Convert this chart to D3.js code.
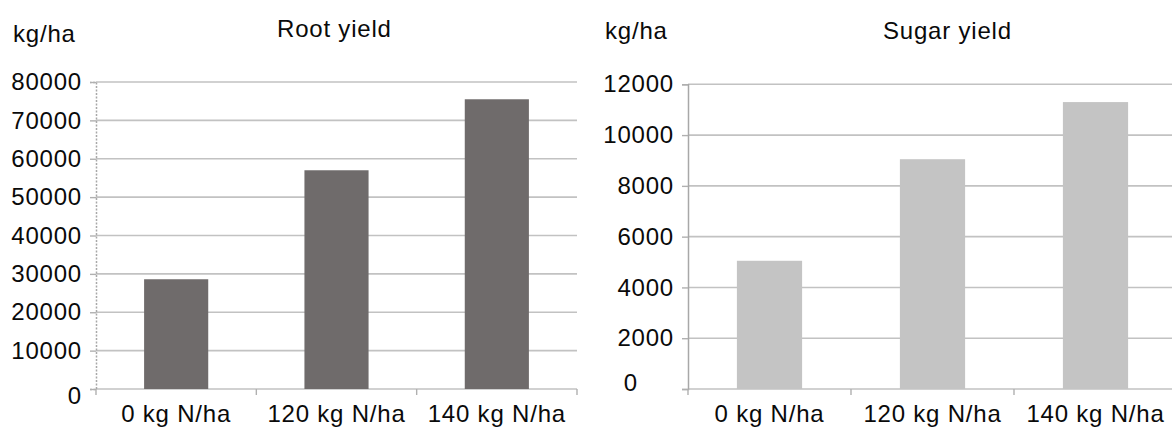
<!DOCTYPE html>
<html>
<head>
<meta charset="utf-8">
<script src="https://cdn.jsdelivr.net/npm/d3@7"></script>
<style>
	html, body { margin: 0; padding: 0; background: #fff; }
	svg text { font-family: "Liberation Sans", Arial, sans-serif; fill: #0a0a0a; letter-spacing: 0.8px; }
</style>
</head>
<body>
<div id="chart"></div>
<script>
// values
const categories = ["0 kg N/ha", "120 kg N/ha", "140 kg N/ha"];
const rootYield = [28600, 57000, 75500];
const sugarYield = [5050, 9050, 11300];
const rootTicks = [0, 10000, 20000, 30000, 40000, 50000, 60000, 70000, 80000];
const sugarTicks = [0, 2000, 4000, 6000, 8000, 10000, 12000];

const width = 1172, height = 428;

const svg = d3.select("#chart")
	.append("svg")
	.attr("width", width)
	.attr("height", height);

function drawPanel(p) {
	let g = svg.append("g");

	let x = d3.scaleBand()
		.domain(categories)
		.range([p.left, p.right])
		.paddingInner(0.6)
		.paddingOuter(0.3);

	let y = d3.scaleLinear()
		.domain([0, d3.max(p.ticks)])
		.range([389, p.top]);

	// horizontal grid
	g.selectAll("line.grid")
		.data(p.ticks)
		.enter().append("line")
		.attr("class", "grid")
		.attr("x1", p.left)
		.attr("x2", p.gridEnd)
		.attr("y1", d => y(d))
		.attr("y2", d => y(d))
		.style("stroke", "#c2c2c2")
		.style("stroke-width", "1.6px");

	// bars
	g.selectAll("rect.bar")
		.data(p.values)
		.enter().append("rect")
		.attr("class", "bar")
		.attr("x", (d, i) => x(categories[i]))
		.attr("width", x.bandwidth())
		.attr("y", d => y(d))
		.attr("height", d => y(0) - y(d))
		.style("fill", p.color);

	// y axis
	let yAxis = d3.axisLeft(y)
		.tickValues(p.ticks)
		.tickSize(6)
		.tickPadding(8)
		.tickFormat(d3.format("d"));
	let ya = g.append("g")
		.attr("transform", "translate(" + p.left + ",0)")
		.call(yAxis);
	ya.select(".domain")
		.style("stroke", "#a8a8a8")
		.style("stroke-width", "1.5px")
		.style("stroke-dasharray", p.dashed ? "2,1.5" : null);
	ya.selectAll(".tick line").style("stroke", "#b0b0b0").style("stroke-width", "1.4px");
	ya.selectAll("text")
		.style("font-size", "24px")
		.attr("dx", d => d === 0 ? p.zeroDx : 0)
		.attr("dy", d => d === 0 ? p.zeroDy : "0.32em");

	// x axis: small ticks at band boundaries
	let step = x.step();
	let edges = d3.range(0, categories.length + 1).map(i => p.left + i * step);
	g.selectAll("line.xtick")
		.data(edges.filter(e => e <= width))
		.enter().append("line")
		.attr("class", "xtick")
		.attr("x1", d => d)
		.attr("x2", d => d)
		.attr("y1", 389)
		.attr("y2", 395)
		.style("stroke", "#b0b0b0")
		.style("stroke-width", "1.4px");

	g.selectAll("text.xlabel")
		.data(categories)
		.enter().append("text")
		.attr("class", "xlabel")
		.attr("x", d => x(d) + x.bandwidth() / 2)
		.attr("y", 422)
		.attr("text-anchor", "middle")
		.style("font-size", "24px")
		.text(d => d);

	g.append("text")
		.attr("x", p.unitX)
		.attr("y", p.unitY)
		.style("font-size", "24px")
		.text("kg/ha");

	g.append("text")
		.attr("x", p.titleX)
		.attr("y", p.titleY)
		.style("font-size", "24px")
		.text(p.title);
}

drawPanel({
	title: "Root yield", values: rootYield, ticks: rootTicks, color: "#6f6b6b",
	left: 96, right: 577, gridEnd: 577, top: 82, dashed: true,
	zeroDx: 0, zeroDy: "0.6em",
	unitX: 13, unitY: 42, titleX: 277, titleY: 37
});

drawPanel({
	title: "Sugar yield", values: sugarYield, ticks: sugarTicks, color: "#c4c4c4",
	left: 688, right: 1177, gridEnd: 1172, top: 84.3, dashed: false,
	zeroDx: -36, zeroDy: "0.05em",
	unitX: 605, unitY: 39, titleX: 883, titleY: 39
});
</script>
</body>
</html>
